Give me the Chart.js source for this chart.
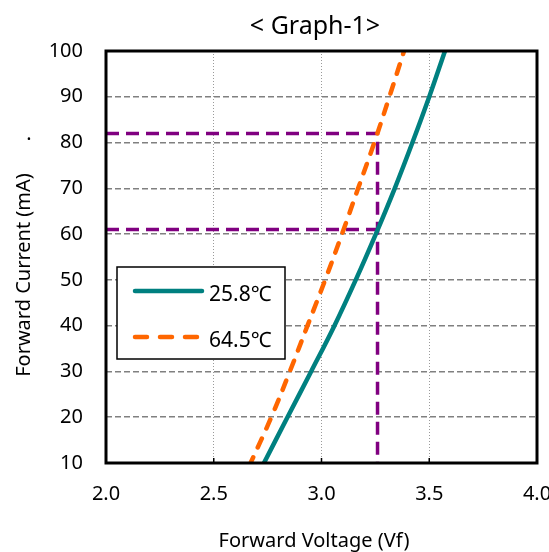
<!DOCTYPE html>
<html>
<head>
<meta charset="utf-8">
<script src="https://cdn.jsdelivr.net/npm/chart.js@4"></script>
<style>
  html, body { margin: 0; padding: 0; background: #fff; }
  #chart { display: block; }
</style>
</head>
<body>
<canvas id="chart" width="549" height="552"></canvas>
<script>
// forward current steps (mA) and measured forward voltage at each step
const currentMA = [10, 20, 30, 40, 50, 60, 70, 80, 90, 100];
const vf258 = [2.733, 2.842, 2.952, 3.060, 3.159, 3.252, 3.340, 3.422, 3.500, 3.573];
const vf645 = [2.671, 2.767, 2.853, 2.935, 3.017, 3.095, 3.170, 3.245, 3.315, 3.383];
const seriesLabels = ['25.8℃', '64.5℃'];

// reference lines read at Vf = 3.26
const guideHighV = [2.0, 3.26, 3.26];
const guideHighI = [82, 82, 10];
const guideLowV = [2.0, 3.26];
const guideLowI = [61, 61];

const xTicks = [2.0, 2.5, 3.0, 3.5, 4.0];
const yTicks = [10, 20, 30, 40, 50, 60, 70, 80, 90, 100];

const FONT = '"Noto Sans", "Noto Sans CJK KR", sans-serif';

function toPoints(xs, ys) {
    return xs.map((x, i) => ({ x: x, y: ys[i] }));
}

const framePlugin = {
    id: 'frame',
    afterDatasetsDraw(chart) {
        const { ctx, chartArea: a, scales } = chart;
        ctx.save();
        // small inner ticks along the bottom axis
        ctx.strokeStyle = '#000';
        ctx.lineWidth = 1.5;
        xTicks.forEach(v => {
            const px = scales.x.getPixelForValue(v);
            ctx.beginPath();
            ctx.moveTo(px, a.bottom);
            ctx.lineTo(px, a.bottom - 5);
            ctx.stroke();
        });
        ctx.lineWidth = 3;
        ctx.strokeRect(a.left, a.top, a.right - a.left, a.bottom - a.top);

        // legend box
        const bx = 117, by = 267, bw = 168, bh = 92;
        ctx.fillStyle = '#fff';
        ctx.fillRect(bx, by, bw, bh);
        ctx.lineWidth = 1.5;
        ctx.strokeStyle = '#000';
        ctx.strokeRect(bx, by, bw, bh);
        const rows = [291, 337];
        ctx.font = '21px ' + FONT;
        ctx.textBaseline = 'middle';
        ctx.textAlign = 'left';
        [0, 1].forEach(i => {
            const ds = chart.data.datasets[i];
            ctx.save();
            ctx.strokeStyle = ds.borderColor;
            ctx.lineWidth = ds.borderWidth;
            ctx.lineCap = 'round';
            ctx.setLineDash(i === 1 ? [12, 13] : []);
            ctx.beginPath();
            ctx.moveTo(135, rows[i]);
            ctx.lineTo(202, rows[i]);
            ctx.stroke();
            ctx.restore();
            ctx.fillStyle = '#000';
            ctx.fillText(ds.label, 209, rows[i] + 4);
        });

        // titles
        ctx.fillStyle = '#000';
        ctx.textAlign = 'center';
        ctx.font = '25px ' + FONT;
        ctx.fillText('< Graph-1>', 315, 27);
        ctx.font = '20px ' + FONT;
        ctx.fillText('Forward Voltage (Vf)', 314, 541);
        ctx.fillText('.', 29, 134);
        ctx.translate(24, 275);
        ctx.rotate(-Math.PI / 2);
        ctx.fillText('Forward Current (mA)', 0, 0);
        ctx.restore();
    }
};

const ctx = document.getElementById('chart').getContext('2d');
new Chart(ctx, {
    type: 'line',
    data: {
        datasets: [
            {
                label: seriesLabels[0],
                data: toPoints(vf258, currentMA),
                borderColor: '#008080',
                borderWidth: 4.5,
                tension: 0.4,
                pointRadius: 0,
                fill: false
            },
            {
                label: seriesLabels[1],
                data: toPoints(vf645, currentMA),
                borderColor: '#ff6600',
                borderWidth: 4.5,
                borderDash: [10, 11],
                borderDashOffset: 4,
                borderCapStyle: 'round',
                tension: 0.4,
                pointRadius: 0,
                fill: false
            },
            {
                label: 'guideHigh',
                data: toPoints(guideHighV, guideHighI),
                borderColor: '#800080',
                borderWidth: 3.5,
                borderDash: [13, 7],
                pointRadius: 0,
                fill: false
            },
            {
                label: 'guideLow',
                data: toPoints(guideLowV, guideLowI),
                borderColor: '#800080',
                borderWidth: 3.5,
                borderDash: [13, 7],
                pointRadius: 0,
                fill: false
            }
        ]
    },
    options: {
        responsive: false,
        animation: false,
        layout: { padding: { top: 51, right: 12, left: 0, bottom: 0 } },
        plugins: {
            legend: { display: false },
            title: { display: false },
            tooltip: { enabled: false }
        },
        scales: {
            x: {
                type: 'linear',
                min: 2.0,
                max: 4.0,
                afterBuildTicks: s => { s.ticks = xTicks.map(v => ({ value: v })); },
                afterFit: s => { s.height = 89; s.paddingLeft = 0; s.paddingRight = 0; },
                ticks: {
                    color: '#000',
                    font: { family: FONT, size: 20 },
                    padding: 19,
                    maxRotation: 0,
                    callback: v => v.toFixed(1)
                },
                grid: { color: '#9a9a9a', lineWidth: 1, drawTicks: false },
                border: { display: false, dash: [1, 2] }
            },
            y: {
                type: 'linear',
                min: 10,
                max: 100,
                afterBuildTicks: s => { s.ticks = yTicks.map(v => ({ value: v })); },
                afterFit: s => { s.width = 106; s.paddingTop = 0; s.paddingBottom = 0; },
                ticks: {
                    color: '#000',
                    font: { family: FONT, size: 20 },
                    padding: 23
                },
                grid: { color: '#808080', lineWidth: 1.5, drawTicks: false },
                border: { display: false, dash: [6, 3] }
            }
        }
    },
    plugins: [framePlugin]
});
</script>
</body>
</html>
